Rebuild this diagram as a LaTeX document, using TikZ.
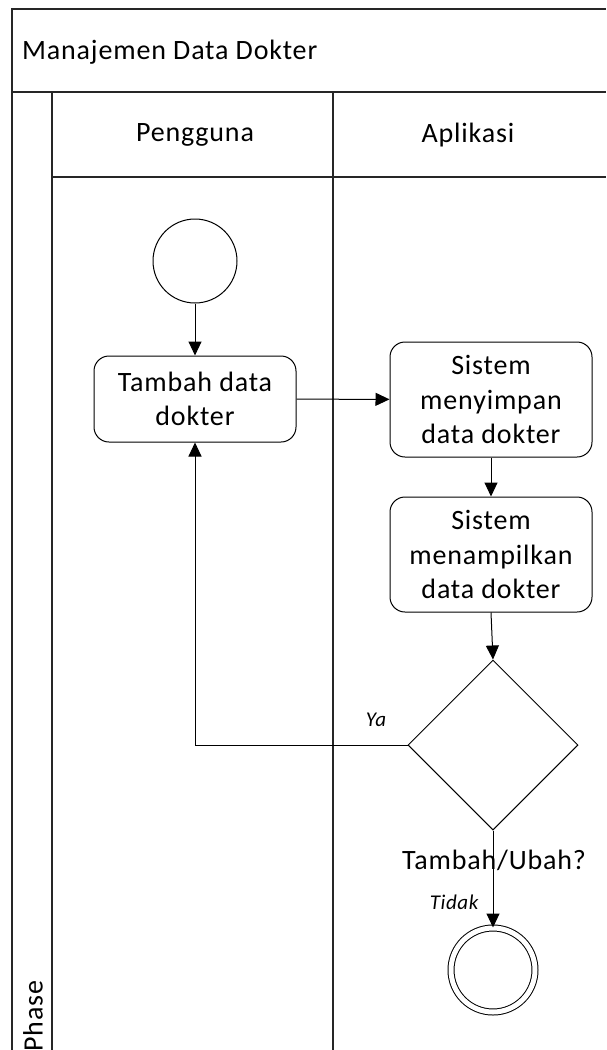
\documentclass[tikz,border=0pt]{standalone}
\usepackage{fontspec}
\setmainfont{Carlito}[LetterSpace=3]
\usetikzlibrary{arrows.meta,shapes.geometric}
\tikzset{
	lane/.style={line width=1.3pt, color=black!85},
	teks/.style={font=\fontsize{28}{34.5}\selectfont},
	act/.style={draw, teks, line width=1pt, rounded corners=15pt, minimum width=202pt, inner sep=2pt, align=center},
	flow/.style={line width=1pt, -{Triangle[length=14pt,width=13pt]}},
	guard/.style={font=\fontsize{21}{25}\selectfont\itshape}
}

\begin{document}
\begin{tikzpicture}[x=1pt, y=-1pt]
			%%%%% START %%%%%
			\useasboundingbox (0, 0) rectangle (606, 1050);
			
			\draw[lane] (12, 1050) -- (12, 9) -- (606, 9);
			\draw[lane] (12, 92) -- (606, 92);
			\draw[lane] (52, 92) -- (52, 1050);
			\draw[lane] (52, 177) -- (606, 177);
			\draw[lane] (333, 92) -- (333, 1050);
			
			\node[teks, anchor=west, inner sep=0pt] (judul) at (22, 52) {Manajemen Data Dokter};
			\node[teks] (pengguna) at (195, 135) {Pengguna};
			\node[teks] (aplikasi) at (468, 135) {Aplikasi};
			\node[teks, rotate=90, anchor=west, inner sep=0pt] (phase) at (33, 1052) {Phase};
			
			\node[draw, circle, line width=1pt, minimum size=84pt] (mulai) at (195, 261) {};
			\node[act, minimum height=86pt] (tambah) at (195, 399) {Tambah data\\dokter};
			\node[act, minimum height=115pt] (simpan) at (491, 399.5) {Sistem\\menyimpan\\data dokter};
			\node[act, minimum height=115pt] (tampil) at (491, 554.5) {Sistem\\menampilkan\\data dokter};
			\node[draw, diamond, line width=1pt, minimum size=170pt, inner sep=0pt] (cek) at (493, 745) {};
			\node[draw, circle, line width=1pt, minimum size=84pt, double, double distance=5pt] (selesai) at (493, 970) {};
			
			\draw[flow] (mulai) -- (tambah);
			\draw[flow] (tambah) -- (simpan);
			\draw[flow] (simpan) -- (tampil);
			\draw[flow] (tampil.south) -- (cek.north);
			\draw[flow] (cek.west) -| (tambah.south);
			\draw[flow] (cek.south) -- (selesai.north);
			
			\node[guard] (ya) at (376, 720) {Ya};
			\node[teks, inner sep=0pt] (tanya) at (494, 860) {Tambah/Ubah?};
			\node[guard, anchor=east] (tidak) at (482, 902) {Tidak};
			
			%%%%% END %%%%%
\end{tikzpicture}
\end{document}
